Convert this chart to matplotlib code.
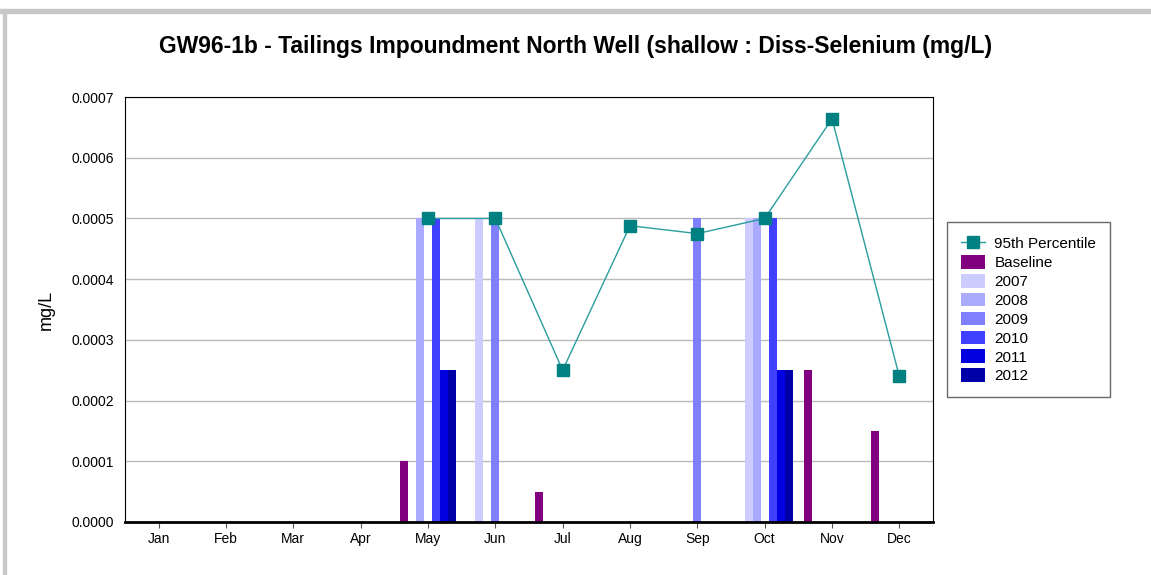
import numpy as np
import matplotlib.pyplot as plt
from matplotlib.patches import Rectangle

plt.rcParams['font.family'] = ['Liberation Sans', 'DejaVu Sans']

months = ["Jan", "Feb", "Mar", "Apr", "May", "Jun", "Jul", "Aug", "Sep", "Oct", "Nov", "Dec"]
nan = np.nan

# bar series (nan = no sample)
baseline = [nan, nan, nan, nan, 0.0001, nan, 0.00005, nan, nan, nan, 0.00025, 0.00015]
y2007 = [nan, nan, nan, nan, nan, 0.0005, nan, nan, nan, 0.0005, nan, nan]
y2008 = [nan, nan, nan, nan, 0.0005, nan, nan, nan, nan, 0.0005, nan, nan]
y2009 = [nan, nan, nan, nan, nan, 0.0005, nan, nan, 0.0005, nan, nan, nan]
y2010 = [nan, nan, nan, nan, 0.0005, nan, nan, nan, nan, 0.0005, nan, nan]
y2011 = [nan, nan, nan, nan, 0.00025, nan, nan, nan, nan, 0.00025, nan, nan]
y2012 = [nan, nan, nan, nan, 0.00025, nan, nan, nan, nan, 0.00025, nan, nan]
pct95 = [nan, nan, nan, nan, 0.0005, 0.0005, 0.00025, 0.000488, 0.000475, 0.0005, 0.000664, 0.00024]

series = [
    ("Baseline", baseline, "#800080"),
    ("2007", y2007, "#CCCCFF"),
    ("2008", y2008, "#AAAAFF"),
    ("2009", y2009, "#8080FF"),
    ("2010", y2010, "#4040FF"),
    ("2011", y2011, "#0000E0"),
    ("2012", y2012, "#0000A8"),
]

fig = plt.figure(figsize=(11.51, 5.75), dpi=100)
ax = fig.add_axes([0.1086, 0.0922, 0.7020, 0.7391])

x = np.arange(len(months))
w = 0.119
handles = []
for i, (name, vals, col) in enumerate(series):
    offs = (i - 3) * w
    b = ax.bar(x + offs, vals, width=w, color=col, label=name, zorder=2)
    handles.append(b)

ln, = ax.plot(x, pct95, color="#2a9d9d", lw=1, marker="s", markersize=8,
              markerfacecolor="#008080", markeredgecolor="#008080", zorder=4,
              label="95th Percentile")

ax.set_xlim(-0.5, 11.5)
ax.set_ylim(0, 0.0007)
ax.set_yticks(np.arange(0, 0.00071, 0.0001))
ax.set_yticklabels([f"{v:.4f}" for v in np.arange(0, 0.00071, 0.0001)], fontsize=10)
ax.set_xticks(x)
ax.set_xticklabels(months, fontsize=10)
ax.yaxis.grid(True, color="#bbbbbb", lw=1, zorder=0)
ax.set_axisbelow(True)
for s in ax.spines.values():
    s.set_color("black")
    s.set_linewidth(0.8)
ax.spines["bottom"].set_linewidth(2)
ax.tick_params(axis="x", length=4, color="#555555")
ax.tick_params(axis="y", length=0, pad=8)
ax.set_ylabel("mg/L", fontsize=13, labelpad=12)

fig.suptitle("GW96-1b - Tailings Impoundment North Well (shallow : Diss-Selenium (mg/L)",
             x=0.5, y=0.94, fontsize=16.5, fontweight="bold")

leg = ax.legend([ln] + handles, ["95th Percentile"] + [s[0] for s in series],
                loc="upper left", bbox_to_anchor=(1.0173, 0.705), borderaxespad=0,
                fontsize=11, frameon=True, fancybox=False, edgecolor="#444444",
                borderpad=0.9, labelspacing=0.25, handlelength=1.6,
                handleheight=1.0, handletextpad=0.6)
leg.get_frame().set_linewidth(1)

# grey frame around the chart
fig.patches.append(Rectangle((0, 0.978), 1, 0.006, transform=fig.transFigure,
                             color="#c8c8c8", zorder=0))
fig.patches.append(Rectangle((0.003, 0), 0.002, 0.98, transform=fig.transFigure,
                             color="#c8c8c8", zorder=0))

fig.savefig("out.png", dpi=100)
